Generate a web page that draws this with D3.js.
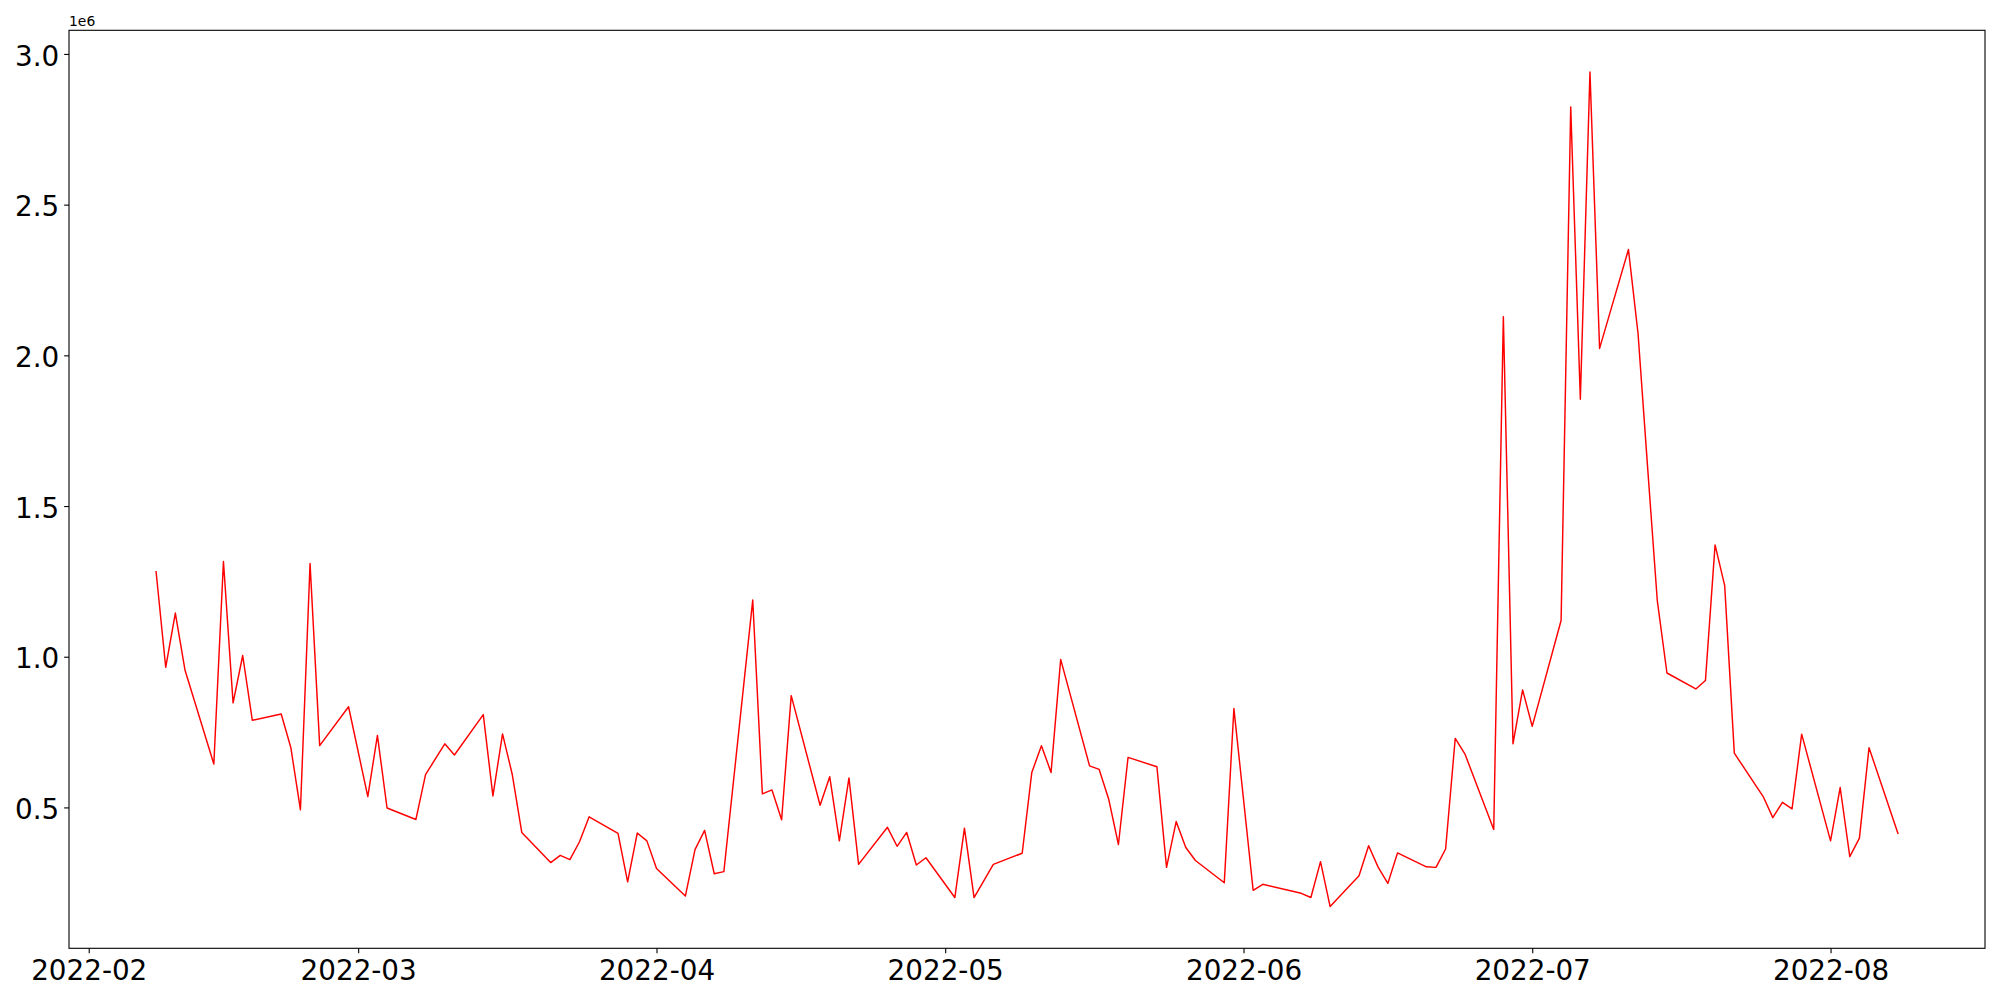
<!DOCTYPE html>
<html>
<head>
<meta charset="utf-8">
<script src="https://d3js.org/d3.v7.min.js"></script>
<style>
  body { margin: 0; background: #ffffff; }
  text { font-family: "DejaVu Sans", sans-serif; }
</style>
</head>
<body>
<div id="viz"></div>
<script>
var width = 2000,
    height = 1000;

var margin = {top: 30.3, right: 15, bottom: 51.7, left: 69};

// trading days (Feb - Aug 2022)
var dates = [
  "2022-02-08", "2022-02-09", "2022-02-10", "2022-02-11", "2022-02-14", "2022-02-15", "2022-02-16", "2022-02-17", "2022-02-18",
  "2022-02-21", "2022-02-22", "2022-02-23", "2022-02-24", "2022-02-25", "2022-02-28",
  "2022-03-02", "2022-03-03", "2022-03-04", "2022-03-07", "2022-03-08", "2022-03-10", "2022-03-11",
  "2022-03-14", "2022-03-15", "2022-03-16", "2022-03-17", "2022-03-18", "2022-03-21", "2022-03-22", "2022-03-23",
  "2022-03-24", "2022-03-25", "2022-03-28", "2022-03-29", "2022-03-30", "2022-03-31", "2022-04-01",
  "2022-04-04", "2022-04-05", "2022-04-06", "2022-04-07", "2022-04-08", "2022-04-11", "2022-04-12", "2022-04-13",
  "2022-04-14", "2022-04-15", "2022-04-18", "2022-04-19", "2022-04-20", "2022-04-21", "2022-04-22",
  "2022-04-25", "2022-04-26", "2022-04-27", "2022-04-28", "2022-04-29",
  "2022-05-02", "2022-05-03", "2022-05-04", "2022-05-06", "2022-05-09", "2022-05-10", "2022-05-11", "2022-05-12", "2022-05-13",
  "2022-05-16", "2022-05-17", "2022-05-18", "2022-05-19", "2022-05-20", "2022-05-23", "2022-05-24", "2022-05-25",
  "2022-05-26", "2022-05-27", "2022-05-30", "2022-05-31",
  "2022-06-02", "2022-06-03", "2022-06-07", "2022-06-08", "2022-06-09", "2022-06-10",
  "2022-06-13", "2022-06-14", "2022-06-15", "2022-06-16", "2022-06-17", "2022-06-20", "2022-06-21", "2022-06-22",
  "2022-06-23", "2022-06-24", "2022-06-27", "2022-06-28", "2022-06-29", "2022-06-30",
  "2022-07-01", "2022-07-04", "2022-07-05", "2022-07-06", "2022-07-07", "2022-07-08", "2022-07-11", "2022-07-12",
  "2022-07-13", "2022-07-14", "2022-07-15", "2022-07-18", "2022-07-19", "2022-07-20", "2022-07-21", "2022-07-22",
  "2022-07-25", "2022-07-26", "2022-07-27", "2022-07-28", "2022-07-29",
  "2022-08-01", "2022-08-02", "2022-08-03", "2022-08-04", "2022-08-05", "2022-08-08"
];

var values = [
  1282000, 965000, 1145000, 956000, 644000, 1316000, 847000, 1004000, 789000,
  810000, 699000, 492000, 1309000, 705000, 834000,
  536000, 739000, 498000, 460000, 609000, 711000, 674000,
  808000, 538000, 744000, 611000, 417000, 317000, 341000, 327000,
  386000, 469000, 414000, 253000, 415000, 389000, 297000,
  206000, 360000, 424000, 280000, 287000, 1188000, 545000, 558000,
  459000, 871000, 507000, 602000, 389000, 598000, 311000,
  434000, 371000, 417000, 309000, 333000,
  201000, 431000, 201000, 311000, 348000, 616000, 705000, 616000, 991000,
  638000, 626000, 526000, 377000, 666000, 635000, 301000, 453000,
  367000, 324000, 250000, 828000,
  225000, 245000, 215000, 201000, 320000, 171000,
  273000, 373000, 301000, 248000, 349000, 303000, 301000, 362000,
  729000, 678000, 427000, 2128000, 711000, 890000,
  769000, 1120000, 2824000, 1854000, 2940000, 2023000, 2351000, 2071000,
  1624000, 1185000, 946000, 893000, 921000, 1371000, 1236000, 680000,
  536000, 466000, 517000, 495000, 743000,
  389000, 566000, 337000, 398000, 698000, 414000
];

var yTicks = [500000, 1000000, 1500000, 2000000, 2500000, 3000000];

var parseDate = d3.timeParse("%Y-%m-%d");
var data = dates.map(function(d, i) { return {date: parseDate(d), value: values[i]}; });

var svg = d3.select("div#viz")
    .append("svg")
    .attr("width", width)
    .attr("height", height)
    .style("background", "#ffffff");

var innerW = width - margin.left - margin.right,
    innerH = height - margin.top - margin.bottom;

// matplotlib style 5% margins around the data
var tExtent = d3.extent(data, function(d) { return d.date; });
var tPad = (tExtent[1] - tExtent[0]) * 0.05;
var vExtent = d3.extent(data, function(d) { return d.value; });
var vPad = (vExtent[1] - vExtent[0]) * 0.05;

var x = d3.scaleTime()
    .domain([new Date(+tExtent[0] - tPad), new Date(+tExtent[1] + tPad)])
    .range([0, innerW]);

var y = d3.scaleLinear()
    .domain([vExtent[0] - vPad, vExtent[1] + vPad])
    .range([innerH, 0]);

var g = svg.append("g")
    .attr("transform", "translate(" + margin.left + "," + margin.top + ")");

var tickLen = 4.86,
    fontSize = 27.8;

var xAxis = g.append("g")
    .attr("transform", "translate(0," + innerH + ")")
    .call(d3.axisBottom(x)
        .ticks(d3.timeMonth.every(1))
        .tickFormat(d3.timeFormat("%Y-%m"))
        .tickSize(tickLen)
        .tickPadding(tickLen)
        .tickSizeOuter(0));

var yAxis = g.append("g")
    .call(d3.axisLeft(y)
        .tickValues(yTicks)
        .tickFormat(function(d) { return d3.format(".1f")(d / 1e6); })
        .tickSize(tickLen)
        .tickPadding(tickLen)
        .tickSizeOuter(0));

[xAxis, yAxis].forEach(function(ax) {
    ax.select(".domain").remove();
    ax.selectAll(".tick line").attr("stroke", "#000").attr("stroke-width", 1.1);
    ax.selectAll(".tick text")
        .attr("fill", "#000")
        .style("font-family", "'DejaVu Sans', sans-serif")
        .style("font-size", fontSize + "px");
});

xAxis.selectAll(".tick text").attr("dy", "0.78em");
yAxis.selectAll(".tick text").attr("dy", "0.4em");

var line = d3.line()
    .x(function(d) { return x(d.date); })
    .y(function(d) { return y(d.value); });

g.append("path")
    .datum(data)
    .attr("fill", "none")
    .attr("stroke", "#ff0000")
    .attr("stroke-width", 1.45)
    .attr("stroke-linejoin", "round")
    .attr("stroke-linecap", "square")
    .attr("d", line);

// frame
g.append("rect")
    .attr("width", innerW)
    .attr("height", innerH)
    .attr("fill", "none")
    .attr("stroke", "#000")
    .attr("stroke-width", 1.1);

// offset text
g.append("text")
    .attr("x", 0)
    .attr("y", -4.5)
    .style("font-size", "13.9px")
    .attr("fill", "#000")
    .text("1e6");
</script>
</body>
</html>
